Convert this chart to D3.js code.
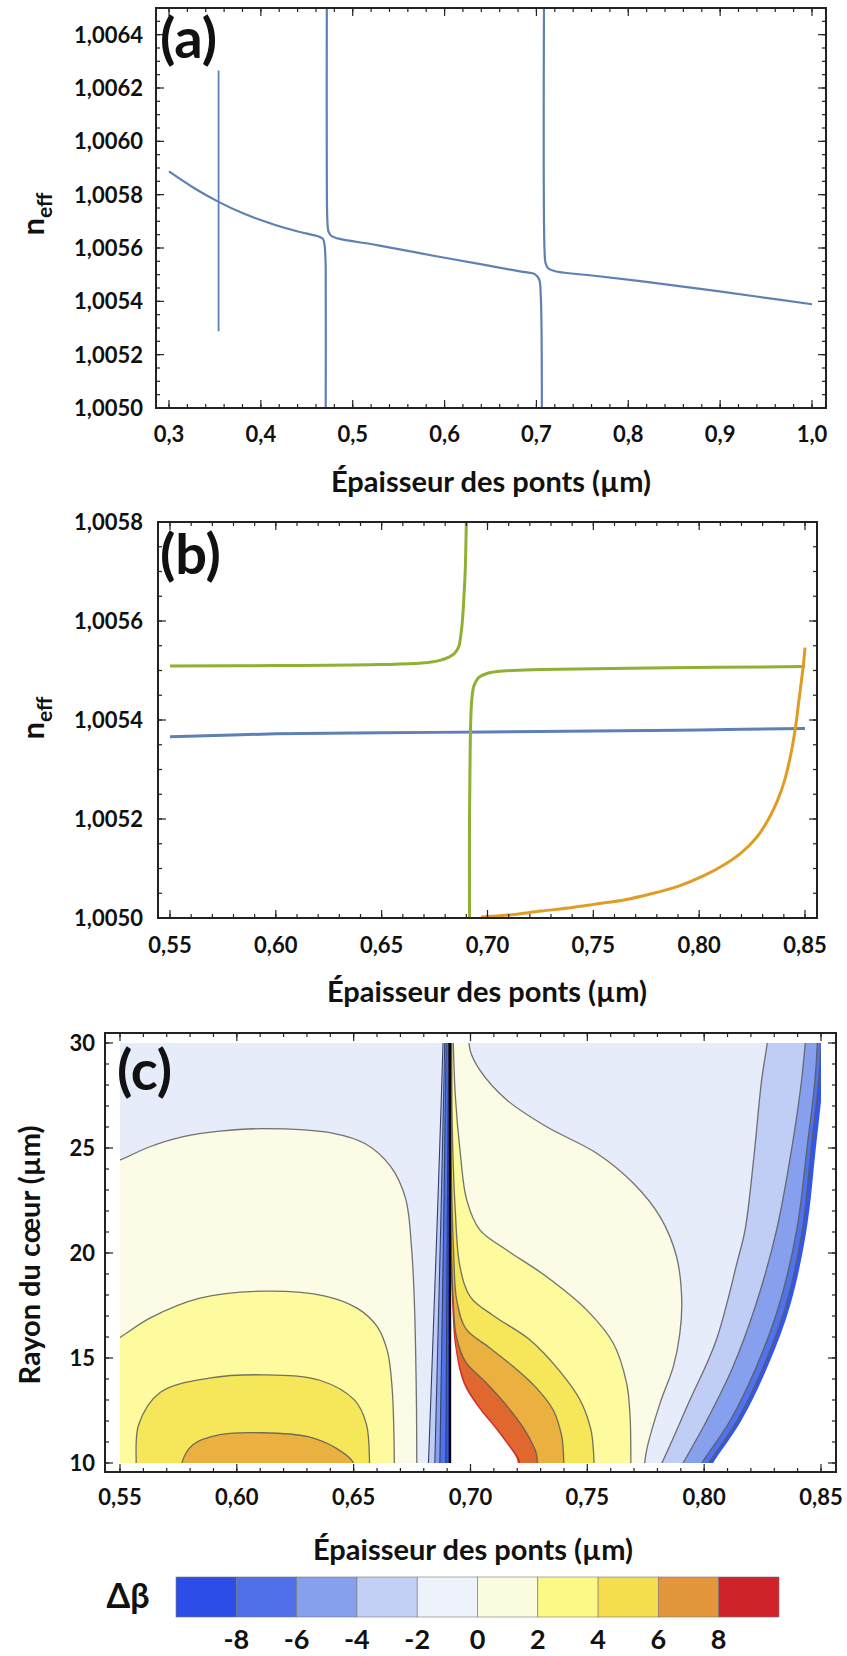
<!DOCTYPE html>
<html><head><meta charset="utf-8">
<script src="https://cdn.jsdelivr.net/npm/d3@7"></script>
<style>
body{margin:0;background:#fff;}
svg text{font-family:Lato,"Open Sans",sans-serif;font-weight:700;fill:#111;}
</style></head><body>
<svg id="chart" width="847" height="1656"></svg>
<script>
// ---------- Panel (a) data ----------
const aTicksX=[0.3,0.4,0.5,0.6,0.7,0.8,0.9,1.0];
const aTickLabelsX=["0,3","0,4","0,5","0,6","0,7","0,8","0,9","1,0"];
const aTicksY=[1.0050,1.0052,1.0054,1.0056,1.0058,1.0060,1.0062,1.0064];
const aTickLabelsY=["1,0050","1,0052","1,0054","1,0056","1,0058","1,0060","1,0062","1,0064"];
const aBranch1=[[0.300,1.005887],[0.3276,1.005824],[0.354,1.005773],[0.3806,1.00573],[0.410,1.005693],[0.4394,1.005663],[0.463,1.005643],[0.4676,1.005634],[0.4694,1.00561],[0.4703,1.00556],[0.4706,1.005529],[0.4706,1.0050]];
const aBranch2=[[0.4718,1.0065],[0.4718,1.005864],[0.4724,1.005703],[0.4735,1.005663],[0.4765,1.005646],[0.4835,1.005636],[0.5276,1.00561],[0.5865,1.005572],[0.645,1.005536],[0.6806,1.005513],[0.6982,1.005502],[0.703,1.005482],[0.7047,1.005422],[0.7059,1.0050]];
const aBranch3=[[0.7082,1.0065],[0.7088,1.005596],[0.7100,1.005543],[0.713,1.005523],[0.7218,1.005512],[0.763,1.005496],[0.8218,1.005472],[0.8806,1.005446],[0.9394,1.005418],[1.0,1.005389]];
const aVertical=[[0.354,1.006266],[0.354,1.005288]];

// ---------- Panel (b) data ----------
const bTicksX=[0.55,0.60,0.65,0.70,0.75,0.80,0.85];
const bTickLabelsX=["0,55","0,60","0,65","0,70","0,75","0,80","0,85"];
const bTicksY=[1.0050,1.0052,1.0054,1.0056,1.0058];
const bTickLabelsY=["1,0050","1,0052","1,0054","1,0056","1,0058"];
const bBlue=[[0.55,1.005366],[0.60,1.005372],[0.65,1.005374],[0.70,1.005376],[0.75,1.005378],[0.80,1.00538],[0.85,1.005383]];
const bGreen1=[[0.55,1.005509],[0.60,1.00551],[0.65,1.005512],[0.669,1.005515],[0.677,1.00552],[0.6818,1.005527],[0.6845,1.005535],[0.6864,1.005548],[0.6875,1.005575],[0.6882,1.005603],[0.689,1.00566],[0.6895,1.005704],[0.6900,1.0058]];
const bGreen2=[[0.6915,1.0050],[0.6915,1.0052],[0.6918,1.005334],[0.6921,1.005401],[0.6926,1.005442],[0.6936,1.005469],[0.6959,1.005486],[0.6997,1.005494],[0.7074,1.005499],[0.7253,1.005502],[0.7765,1.005505],[0.85,1.005508]];
const bOrange=[[0.697,1.005002],[0.71,1.005006],[0.7253,1.005014],[0.74,1.005021],[0.751,1.005028],[0.765,1.005037],[0.7765,1.005048],[0.79,1.005064],[0.802,1.005085],[0.812,1.005108],[0.82,1.005132],[0.827,1.005162],[0.8328,1.0052],[0.837,1.005237],[0.8405,1.00528],[0.8435,1.005335],[0.8456,1.005388],[0.847,1.005435],[0.848,1.005469],[0.8492,1.00551],[0.85,1.005546]];

// ---------- Panel (c) data ----------
const cTicksX=[0.55,0.60,0.65,0.70,0.75,0.80,0.85];
const cTickLabelsX=["0,55","0,60","0,65","0,70","0,75","0,80","0,85"];
const cTicksY=[10,15,20,25,30];
const cTickLabelsY=["10","15","20","25","30"];
const cLevels=[-8,-6,-4,-2,0,2,4,6,8];
const cLevelLabels=["-8","-6","-4","-2","0","2","4","6","8"];
const cBandColors=["#2d4de9","#4f6fe9","#86a0ee","#c3cff5","#eef2fb","#fbfbe0","#fdf986","#f4dd4f","#e3963c","#d02229"];
// contour lines: [épaisseur, rayon]
const c0L=[[0.544,24.2],[0.55,24.43],[0.5628,25.06],[0.5771,25.54],[0.5927,25.8],[0.6113,25.92],[0.6413,25.7],[0.655,25.2],[0.6658,24.12],[0.6722,22.6],[0.6748,20.2],[0.676,17.6],[0.6765,15.4],[0.6769,12.5],[0.677,10],[0.677,9.4]];
const c2L=[[0.544,15.6],[0.55,15.98],[0.5628,16.9],[0.5842,17.85],[0.6113,18.18],[0.6378,17.95],[0.6518,17.35],[0.66,16.5],[0.6645,15.3],[0.6665,13.5],[0.6672,11.5],[0.6674,10],[0.6674,9.4]];
const c4L=[[0.5569,9.4],[0.5569,10],[0.558,11.83],[0.5673,13.37],[0.5881,14.04],[0.6112,14.2],[0.6355,13.94],[0.6505,12.98],[0.6555,11.83],[0.6568,10],[0.6568,9.4]];
const c6L=[[0.5765,9.4],[0.5765,10],[0.5812,10.87],[0.5927,11.35],[0.6112,11.44],[0.6305,11.25],[0.643,10.67],[0.65,10],[0.6505,9.4]];
const cm2L=[[0.6884,30.6],[0.6874,27],[0.6859,22],[0.6843,17],[0.683,13],[0.6818,9.4]];
const cm4L=[[0.6891,30.6],[0.6884,27],[0.6874,22],[0.6863,17],[0.6854,13],[0.6846,9.4]];
const cm6L=[[0.6897,30.6],[0.6892,27],[0.6886,22],[0.6879,17],[0.6873,13],[0.6868,9.4]];
const cm8L=[[0.6906,30.6],[0.6904,27],[0.6901,22],[0.6898,17],[0.6896,13],[0.6894,9.4]];
const cSingular=[[0.6912,30.6],[0.6912,9.4]];
const c0R=[[0.6995,30.6],[0.6998,29.67],[0.704,28.71],[0.7155,27.29],[0.7326,26.01],[0.754,24.75],[0.7697,23.32],[0.7811,21.73],[0.7882,19.82],[0.7904,17.76],[0.7896,16.18],[0.7868,14.59],[0.7811,12.84],[0.7754,10.62],[0.774,9.4]];
const c2R=[[0.6925,30.6],[0.6935,27.5],[0.6955,24.9],[0.6984,22.52],[0.704,21.1],[0.7155,20.14],[0.7326,18.87],[0.7497,17.29],[0.7611,15.7],[0.7668,13.8],[0.7683,12.2],[0.7686,10.62],[0.7686,9.4]];
const c4R=[[0.692,30.6],[0.6922,26],[0.6935,22],[0.6955,19.35],[0.700,17.9],[0.710,17.0],[0.7255,15.86],[0.738,14.4],[0.7469,13.0],[0.7515,11.6],[0.7526,10.62],[0.753,9.4]];
const c6R=[[0.6916,30.6],[0.6918,24],[0.6928,20],[0.6941,17.76],[0.698,16.4],[0.708,15.5],[0.7183,14.59],[0.728,13.6],[0.7354,12.52],[0.739,11.3],[0.7397,10.62],[0.74,9.4]];
const c8R=[[0.6914,30.6],[0.6915,22],[0.6925,18],[0.694,16.0],[0.698,14.8],[0.706,13.9],[0.715,12.8],[0.7225,11.7],[0.727,10.8],[0.7283,10.4],[0.7288,9.4]];
const cRedEdge=[[0.6913,30.6],[0.6914,21],[0.6925,18],[0.694,15.5],[0.6978,13.8],[0.7038,12.7],[0.7118,11.6],[0.7178,10.7],[0.7208,10.2],[0.722,9.4]];
const cHole=[[0.6913,30.6],[0.6913,21],[0.692,18],[0.6935,15.5],[0.697,13.8],[0.703,12.7],[0.711,11.6],[0.717,10.7],[0.7198,10.2],[0.721,9.4]];
const cm2R=[[0.8275,30.6],[0.827,30],[0.8246,28.24],[0.8212,24.5],[0.8175,21.1],[0.8142,19.6],[0.805,15.8],[0.7935,12.9],[0.7819,10],[0.779,9.4]];
const cm4R=[[0.8437,30.6],[0.8417,28.24],[0.8375,25],[0.831,21.1],[0.822,17.5],[0.812,14.5],[0.801,12],[0.791,10],[0.788,9.4]];
const cm6R=[[0.8487,30.6],[0.8474,28.24],[0.844,25],[0.8396,21.1],[0.832,17.5],[0.822,14.5],[0.811,12],[0.799,10],[0.796,9.4]];
const cm8R=[[0.8505,30.6],[0.849,28.24],[0.8458,25],[0.842,21.1],[0.835,17.5],[0.825,14.5],[0.814,12],[0.802,10],[0.799,9.4]];
const cEdgeR=[[0.8518,30.6],[0.8508,28.24],[0.8478,25],[0.8438,21.1],[0.8368,17.5],[0.8268,14.5],[0.8158,12],[0.8038,10],[0.8008,9.4]];
const cPlotColors={m10:"#3356ec",m8:"#5072ea",m6:"#86a0ee",m4:"#c0cdf5",m2:"#e7ecfa",p0:"#fbfbe6",p2:"#fdfb9e",p4:"#f6e65a",p6:"#eab040",p8:"#e0672e",p10:"#d2302a"};

const svg=d3.select("#chart");
const blue="#5e81b5", green="#8fb032", orange="#e19c24";

function frame(g,x,y,xMaj,xMin,yMaj,yMin){
  const L=x.range()[0],R=x.range()[1],B=y.range()[0],T=y.range()[1];
  const tk=g.append("g").attr("stroke","#222").attr("stroke-width",1.2);
  xMin.forEach(v=>{const p=x(v);tk.append("line").attr("x1",p).attr("x2",p).attr("y1",B).attr("y2",B-4);tk.append("line").attr("x1",p).attr("x2",p).attr("y1",T).attr("y2",T+4);});
  xMaj.forEach(v=>{const p=x(v);tk.append("line").attr("x1",p).attr("x2",p).attr("y1",B).attr("y2",B-8);tk.append("line").attr("x1",p).attr("x2",p).attr("y1",T).attr("y2",T+8);});
  yMin.forEach(v=>{const p=y(v);tk.append("line").attr("y1",p).attr("y2",p).attr("x1",L).attr("x2",L+4);tk.append("line").attr("y1",p).attr("y2",p).attr("x1",R).attr("x2",R-4);});
  yMaj.forEach(v=>{const p=y(v);tk.append("line").attr("y1",p).attr("y2",p).attr("x1",L).attr("x2",L+8);tk.append("line").attr("y1",p).attr("y2",p).attr("x1",R).attr("x2",R-8);});
  g.append("rect").attr("x",L).attr("y",T).attr("width",R-L).attr("height",B-T).attr("fill","none").attr("stroke","#222").attr("stroke-width",2);
}
function tickLabels(g,x,y,xt,xl,yt,yl,xLabY,yLabX,fs){
  xt.forEach((v,i)=>g.append("text").attr("x",x(v)).attr("y",xLabY).attr("text-anchor","middle").attr("font-size",fs).text(xl[i]));
  yt.forEach((v,i)=>g.append("text").attr("x",yLabX).attr("y",y(v)).attr("dy","0.36em").attr("text-anchor","end").attr("font-size",fs).text(yl[i]));
}
function neff(g,cx,cy){
  const t=g.append("text").attr("transform",`translate(${cx},${cy}) rotate(-90)`).attr("text-anchor","middle").attr("font-size",31);
  t.append("tspan").text("n");
  t.append("tspan").attr("font-size",21).attr("dy",8).text("eff");
}

// ---------- Panel (a) ----------
{
  const g=svg.append("g");
  const x=d3.scaleLinear().domain([0.28585,1.01524]).range([156,826]);
  const y=d3.scaleLinear().domain([1.0050,1.0065]).range([408,8]);
  g.append("defs").append("clipPath").attr("id","clipA").append("rect").attr("x",156).attr("y",8).attr("width",670).attr("height",400);
  const lineX=d3.line().x(d=>x(d[0])).y(d=>y(d[1])).curve(d3.curveCatmullRom.alpha(0.5));
  const pg=g.append("g").attr("clip-path","url(#clipA)").attr("fill","none").attr("stroke",blue);
  [aBranch1,aBranch2,aBranch3].forEach(d=>pg.append("path").attr("d",lineX(d)).attr("stroke-width",2.2));
  pg.append("path").attr("d",lineX(aVertical)).attr("stroke-width",1.8);
  frame(g,x,y,aTicksX,d3.range(0.30,1.0001,0.02),aTicksY,d3.range(1.0050,1.00651,0.00005));
  tickLabels(g,x,y,aTicksX,aTickLabelsX,aTicksY,aTickLabelsY,442,143,22);
  g.append("text").attr("x",160).attr("y",58).attr("font-size",56).text("(a)");
  g.append("text").attr("x",491).attr("y",492).attr("text-anchor","middle").attr("font-size",29).text("Épaisseur des ponts (µm)");
  neff(g,44,214);
}
// ---------- Panel (b) ----------
{
  const g=svg.append("g");
  const x=d3.scaleLinear().domain([0.54433,0.85567]).range([158,817]);
  const y=d3.scaleLinear().domain([1.0050,1.0058]).range([918,522]);
  g.append("defs").append("clipPath").attr("id","clipB").append("rect").attr("x",158).attr("y",522).attr("width",659).attr("height",396);
  const lineX=d3.line().x(d=>x(d[0])).y(d=>y(d[1])).curve(d3.curveCatmullRom.alpha(0.5));
  const pg=g.append("g").attr("clip-path","url(#clipB)").attr("fill","none").attr("stroke-width",3);
  pg.append("path").attr("d",lineX(bBlue)).attr("stroke",blue);
  pg.append("path").attr("d",lineX(bGreen1)).attr("stroke",green);
  pg.append("path").attr("d",lineX(bGreen2)).attr("stroke",green);
  pg.append("path").attr("d",lineX(bOrange)).attr("stroke",orange);
  frame(g,x,y,bTicksX,d3.range(0.55,0.8501,0.01),bTicksY,d3.range(1.0050,1.00581,0.00005));
  tickLabels(g,x,y,bTicksX,bTickLabelsX,bTicksY,bTickLabelsY,953,143,22);
  g.append("text").attr("x",160).attr("y",574).attr("font-size",56).text("(b)");
  g.append("text").attr("x",487).attr("y",1002).attr("text-anchor","middle").attr("font-size",29).text("Épaisseur des ponts (µm)");
  neff(g,44,718);
}
// ---------- Panel (c) ----------
{
  const g=svg.append("g");
  const x=d3.scaleLinear().domain([0.54358,0.85642]).range([105,836]);
  const y=d3.scaleLinear().domain([9.571,30.476]).range([1472,1033]);
  const X0=x(0.55),X1=x(0.85),Y0=y(30),Y1=y(10);
  g.append("defs").append("clipPath").attr("id","clipC").append("rect").attr("x",X0).attr("y",Y0).attr("width",X1-X0).attr("height",Y1-Y0);
  const cr=d3.line().x(d=>x(d[0])).y(d=>y(d[1])).curve(d3.curveCatmullRom.alpha(0.5));
  const corners=pts=>pts.map(p=>`L${x(p[0])},${y(p[1])}`).join("");
  const pg=g.append("g").attr("clip-path","url(#clipC)");
  const C=cPlotColors;
  pg.append("rect").attr("x",X0).attr("y",Y0).attr("width",X1-X0).attr("height",Y1-Y0).attr("fill",C.m2);
  const lobe=(c,col)=>pg.append("path").attr("d",cr(c)+corners([[0.54,9.4],[0.54,c[0][1]]])+"Z").attr("fill",col);
  lobe(c0L,C.p0);lobe(c2L,C.p2);lobe(c4L,C.p4);lobe(c6L,C.p6);
  const toSing=(c,col)=>pg.append("path").attr("d",cr(c)+corners([[0.6912,9.4],[0.6912,30.6]])+"Z").attr("fill",col);
  toSing(cm2L,C.m4);toSing(cm4L,C.m6);toSing(cm6L,C.m8);toSing(cm8L,C.m10);
  toSing(c0R,C.p0);toSing(c2R,C.p2);toSing(c4R,C.p4);toSing(c6R,C.p6);toSing(c8R,C.p8);
  toSing(cRedEdge,C.p10);toSing(cHole,"#ffffff");
  const toRight=(c,col)=>pg.append("path").attr("d",cr(c)+corners([[0.87,9.4],[0.87,30.6]])+"Z").attr("fill",col);
  toRight(cm2R,C.m4);toRight(cm4R,C.m6);toRight(cm6R,C.m8);toRight(cm8R,C.m10);toRight(cEdgeR,"#ffffff");
  const lg=pg.append("g").attr("fill","none").attr("stroke","#5a5a5a").attr("stroke-width",1.3).attr("stroke-opacity",0.85);
  [c0L,c2L,c4L,c6L,c0R,c2R,c4R,c6R,c8R,cm2R,cm4R,cm6R,cm8R].forEach(c=>lg.append("path").attr("d",cr(c)));
  const lg2=pg.append("g").attr("fill","none").attr("stroke","#34406a").attr("stroke-width",1.1);
  [cm2L,cm4L,cm6L,cm8L].forEach(c=>lg2.append("path").attr("d",cr(c)));
  pg.append("path").attr("d",cr(cSingular)).attr("stroke","#000").attr("stroke-width",2.5).attr("fill","none");
  frame(g,x,y,cTicksX,d3.range(0.55,0.8501,0.01),cTicksY,d3.range(10,30.01,1));
  tickLabels(g,x,y,cTicksX,cTickLabelsX,cTicksY,cTickLabelsY,1505,95,22);
  g.append("text").attr("x",117).attr("y",1090).attr("font-size",56).text("(c)");
  g.append("text").attr("x",473).attr("y",1560).attr("text-anchor","middle").attr("font-size",29).text("Épaisseur des ponts (µm)");
  g.append("text").attr("transform","translate(40,1255) rotate(-90)").attr("text-anchor","middle").attr("font-size",29).text("Rayon du cœur (µm)");
  const lb=d3.scaleLinear().domain([-10,10]).range([176,779]);
  const edges=[-10].concat(cLevels,[10]);
  const bar=g.append("g");
  d3.range(10).forEach(i=>bar.append("rect").attr("x",lb(edges[i])).attr("y",1577).attr("width",lb(edges[i+1])-lb(edges[i])).attr("height",40).attr("fill",cBandColors[i]).attr("stroke","#777").attr("stroke-width",0.6));
  cLevels.forEach((v,i)=>bar.append("text").attr("x",lb(v)).attr("y",1649).attr("text-anchor","middle").attr("font-size",27).text(cLevelLabels[i]));
  bar.append("text").attr("x",128).attr("y",1608).attr("text-anchor","middle").attr("font-size",34).text("Δβ");
}
</script></body></html>
